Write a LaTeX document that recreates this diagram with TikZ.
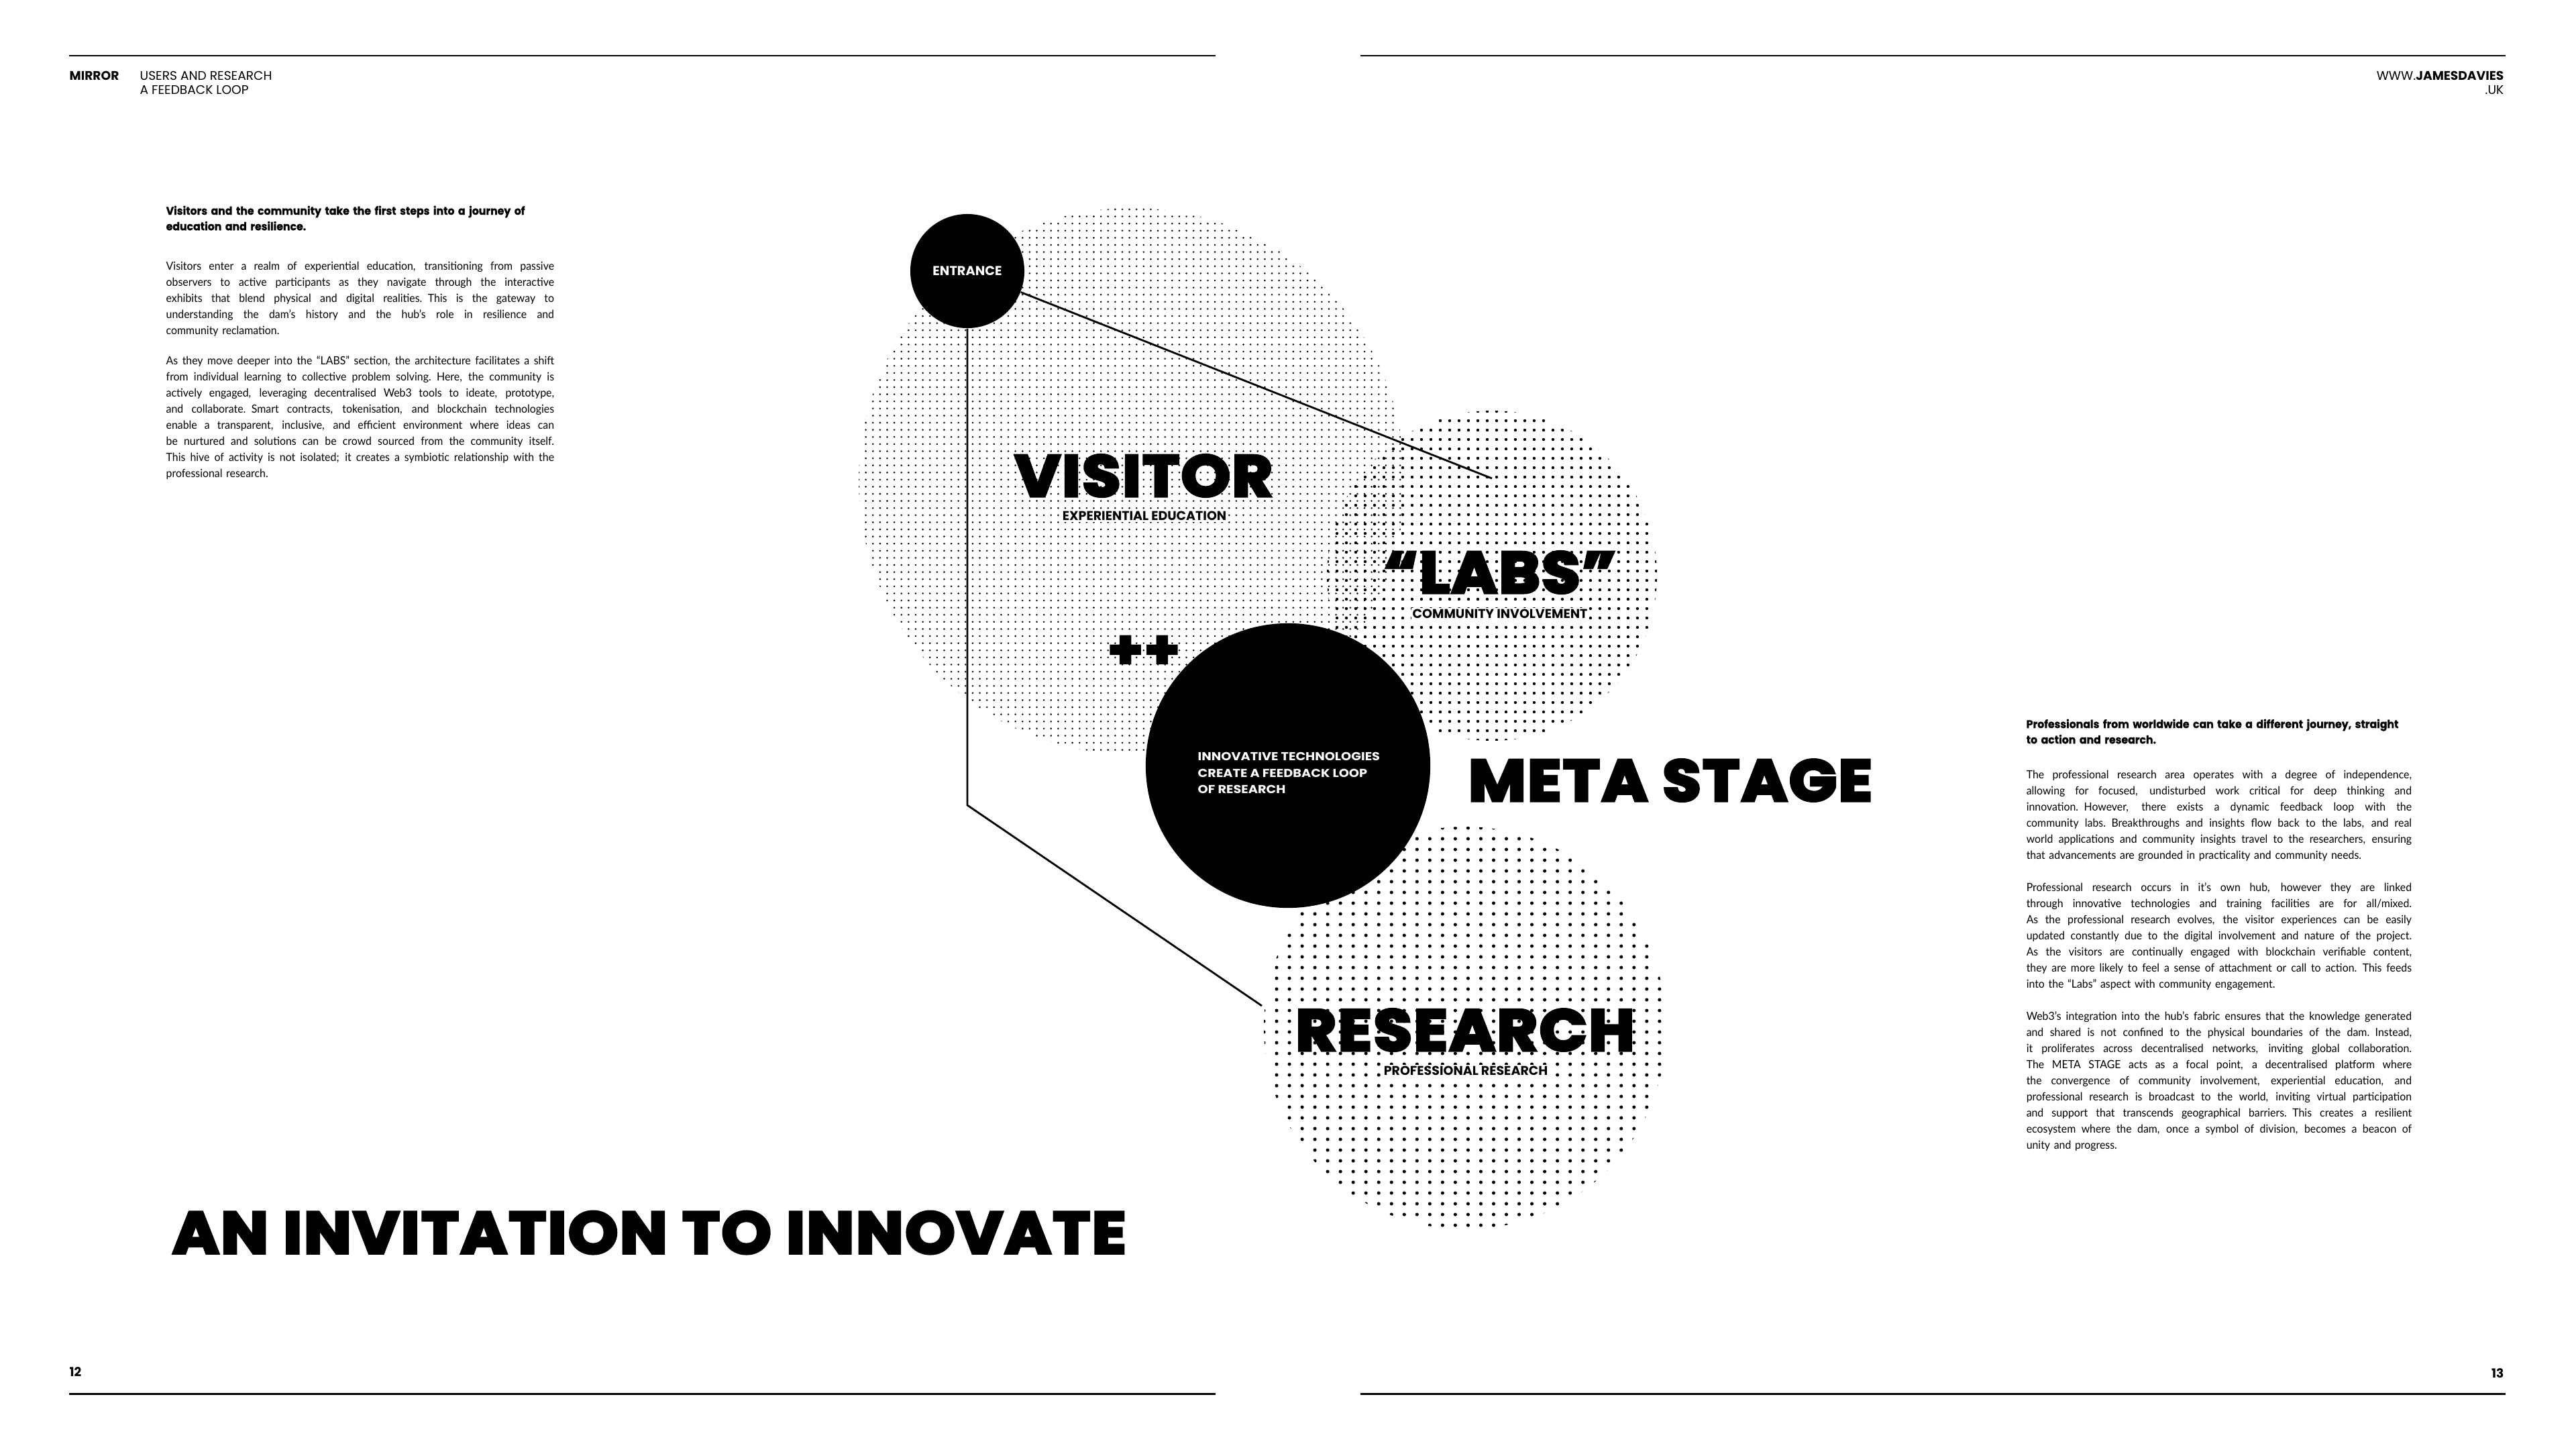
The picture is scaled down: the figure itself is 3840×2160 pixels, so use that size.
\documentclass[tikz,border=0pt]{standalone}
\usepackage{fontspec}
\setmainfont{Lato}
\newfontfamily\heavyfont{Poppins}[UprightFont=* Bold,FakeStretch=1.08,FakeBold=5,LetterSpace=3]
\newfontfamily\headfont{Poppins}[UprightFont=* Bold,FakeStretch=1.12]
\newfontfamily\boldfont{Poppins}[UprightFont=* Bold]
\newfontfamily\introfont{Poppins}[UprightFont=* Bold,FakeStretch=0.95,FakeBold=1]
\newfontfamily\capfont{Poppins}
\newfontfamily\bodyfont{Lato}[FakeStretch=0.94]
% one justified line of a paragraph
\newcommand{\jl}[1]{\hbox to \linewidth{\spaceskip=0.22em plus 1fil\relax #1}\par}

\begin{document}
\begin{tikzpicture}[x=0.01cm,y=-0.01cm,
  rule/.style={line width=0.85pt},
  link/.style={line width=0.8pt},
  hub/.style={circle,fill=black,inner sep=0pt,text=white},
  dotrow/.style 2 args={line width=#2,line cap=round,dash pattern=on 0pt off #1},
  big/.style={font=\heavyfont\fontsize{24.5}{26}\selectfont,inner sep=0pt},
  sub/.style={font=\boldfont\fontsize{5.4}{6}\selectfont,fill=white,inner sep=0.5pt},
  head/.style={font=\capfont\fontsize{5.3}{6}\selectfont,inner sep=0pt},
  intro/.style={font=\introfont\fontsize{4.7}{6.6}\selectfont,align=left,inner sep=0pt,anchor=base west},
  para/.style={font=\bodyfont\fontsize{4.8}{6.83}\selectfont,align=left,inner sep=0pt,anchor=base west}]
  \fill[white] (0,0) rectangle (3840,2160);
  \useasboundingbox (0,0) rectangle (3840,2160);

  % page rules
  \draw[rule] (103,83) -- (1812,83);
  \draw[rule] (2028,83) -- (3735,83);
  \draw[rule] (103,2077) -- (1812,2077);
  \draw[rule] (2028,2077) -- (3735,2077);

  % running heads and folios
  \node[head,anchor=west,font=\boldfont\fontsize{5.3}{6}\selectfont] (mirror) at (103,113) {MIRROR};
  \node[head,anchor=west] (section) at (208,113) {USERS AND RESEARCH};
  \node[head,anchor=west] (subsection) at (208,134) {A FEEDBACK LOOP};
  \node[head,anchor=east] (web) at (3733,113) {WWW.{\boldfont JAMESDAVIES}};
  \node[head,anchor=east] (webuk) at (3733,134) {.UK};
  \node[head,anchor=west,font=\boldfont\fontsize{5.3}{6}\selectfont] (folioL) at (103,2045) {12};
  \node[head,anchor=east,font=\boldfont\fontsize{5.3}{6}\selectfont] (folioR) at (3733,2047) {13};

  % dotted fields
  \begin{scope}
    \clip (1687,717) circle (407);
    \foreach \y in {312,322.6,...,1124}
      \draw[dotrow={3.02pt}{0.8pt}] (1280,\y) -- (2094,\y);
  \end{scope}
  \begin{scope}
    \clip (2224,858) circle (246);
    \foreach \y in {613,627,...,1104}
      \draw[dotrow={3.98pt}{1.25pt}] (1979,\y) -- (2470,\y);
  \end{scope}
  \begin{scope}
    \clip (2184,1532) circle (300);
    \foreach \y in {1234,1250,...,1832}
      \draw[dotrow={5.41pt}{1.45pt}] (1884,\y) -- (2484,\y);
  \end{scope}

  % hubs and links
  \node[hub,minimum size=4.24cm] (core) at (1920,1141) {};
  \node[hub,minimum size=1.7cm,font=\boldfont\fontsize{5.5}{6}\selectfont] (entrance) at (1442,404) {ENTRANCE};
  \coordinate (labstip) at (2224,713);
  \coordinate (bend) at (1442,1200);
  \coordinate (restip) at (1881,1499);
  \draw[link] (entrance) -- (labstip);
  \draw[link] (entrance.south) -- (bend) -- (restip);

  \node[anchor=west,align=left,text=white,inner sep=0pt,
        font=\headfont\fontsize{4.9}{6.97}\selectfont] (coretext) at (1785,1152)
       {INNOVATIVE TECHNOLOGIES\\CREATE A FEEDBACK LOOP\\OF RESEARCH};

  % labels
  \node[big] (visitor) at (1705,709) {VISITOR};
  \node[sub] (visitorsub) at (1706,769) {EXPERIENTIAL EDUCATION};
  \node[big] (labs) at (2236,853) {“LABS”};
  \node[sub] (labssub) at (2236,915) {COMMUNITY INVOLVEMENT};
  \node[big,font=\heavyfont\fontsize{22}{24}\selectfont] (plus) at (1705,972) {++};
  \node[big] (meta) at (2490,1163) {META STAGE};
  \node[big] (research) at (2184,1535) {RESEARCH};
  \node[sub] (researchsub) at (2185,1596) {PROFESSIONAL RESEARCH};

  \node[big,font=\heavyfont\fontsize{24.8}{26}\selectfont] (title) at (968,1837) {AN INVITATION TO INNOVATE};

  % left column
  \node[intro,text width=5.8cm] (introL) at (247,320)
    {Visitors and the community take the first steps into a journey of\\education and resilience.};
  \node[para,text width=5.78cm] (paraL1) at (247,402) {%
    \jl{Visitors enter a realm of experiential education, transitioning from passive}
    \jl{observers to active participants as they navigate through the interactive}
    \jl{exhibits that blend physical and digital realities. This is the gateway to}
    \jl{understanding the dam’s history and the hub’s role in resilience and}
    community reclamation.};
  \node[para,text width=5.78cm] (paraL2) at (247,543) {%
    \jl{As they move deeper into the “LABS” section, the architecture facilitates a shift}
    \jl{from individual learning to collective problem solving. Here, the community is}
    \jl{actively engaged, leveraging decentralised Web3 tools to ideate, prototype,}
    \jl{and collaborate. Smart contracts, tokenisation, and blockchain technologies}
    \jl{enable a transparent, inclusive, and efficient environment where ideas can}
    \jl{be nurtured and solutions can be crowd sourced from the community itself.}
    \jl{This hive of activity is not isolated; it creates a symbiotic relationship with the}
    professional research.};

  % right column
  \node[intro,text width=5.8cm] (introR) at (3020,1085)
    {Professionals from worldwide can take a different journey, straight\\to action and research.};
  \node[para,text width=5.74cm] (paraR1) at (3020,1160) {%
    \jl{The professional research area operates with a degree of independence,}
    \jl{allowing for focused, undisturbed work critical for deep thinking and}
    \jl{innovation. However, there exists a dynamic feedback loop with the}
    \jl{community labs. Breakthroughs and insights flow back to the labs, and real}
    \jl{world applications and community insights travel to the researchers, ensuring}
    that advancements are grounded in practicality and community needs.};
  \node[para,text width=5.74cm] (paraR2) at (3020,1328) {%
    \jl{Professional research occurs in it’s own hub, however they are linked}
    \jl{through innovative technologies and training facilities are for all/mixed.}
    \jl{As the professional research evolves, the visitor experiences can be easily}
    \jl{updated constantly due to the digital involvement and nature of the project.}
    \jl{As the visitors are continually engaged with blockchain verifiable content,}
    \jl{they are more likely to feel a sense of attachment or call to action. This feeds}
    into the “Labs” aspect with community engagement.};
  \node[para,text width=5.74cm] (paraR3) at (3020,1520) {%
    \jl{Web3’s integration into the hub’s fabric ensures that the knowledge generated}
    \jl{and shared is not confined to the physical boundaries of the dam. Instead,}
    \jl{it proliferates across decentralised networks, inviting global collaboration.}
    \jl{The META STAGE acts as a focal point, a decentralised platform where}
    \jl{the convergence of community involvement, experiential education, and}
    \jl{professional research is broadcast to the world, inviting virtual participation}
    \jl{and support that transcends geographical barriers. This creates a resilient}
    \jl{ecosystem where the dam, once a symbol of division, becomes a beacon of}
    unity and progress.};
\end{tikzpicture}
\end{document}
